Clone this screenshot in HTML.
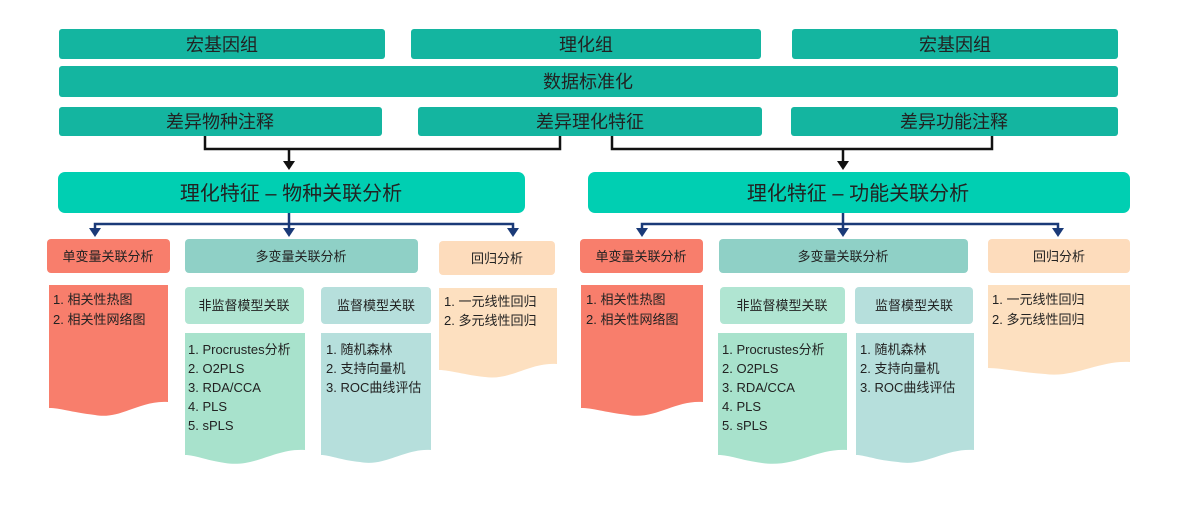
<!DOCTYPE html>
<html><head><meta charset="utf-8"><style>
html,body{margin:0;padding:0;background:#fff;width:1200px;height:523px;overflow:hidden}
text{font-family:"Liberation Sans","Noto Sans CJK SC",sans-serif;fill:#222}
</style></head><body>
<svg width="1200" height="523" xmlns="http://www.w3.org/2000/svg">
<defs>
<marker id="ak" markerWidth="8" markerHeight="8" refX="4" refY="6" orient="auto" markerUnits="userSpaceOnUse"><path d="M0,0 L8,0 L4,8 z" fill="#111" transform="translate(0,-2)"/></marker>
</defs>
<g fill="#14b5a0">
<rect x="59" y="29" width="326" height="30" rx="3"/>
<rect x="411" y="29" width="350" height="30" rx="3"/>
<rect x="792" y="29" width="326" height="30" rx="3"/>
<rect x="59" y="66" width="1059" height="31" rx="3"/>
<rect x="59" y="107" width="323" height="29" rx="3"/>
<rect x="418" y="107" width="344" height="29" rx="3"/>
<rect x="791" y="107" width="327" height="29" rx="3"/>
</g>
<g font-size="18" text-anchor="middle">
<text x="222" y="51">宏基因组</text>
<text x="586" y="51">理化组</text>
<text x="955" y="51">宏基因组</text>
<text x="588" y="88">数据标准化</text>
<text x="220" y="128">差异物种注释</text>
<text x="590" y="128">差异理化特征</text>
<text x="954" y="128">差异功能注释</text>
</g>
<g stroke="#111" stroke-width="2.5" fill="none">
<path d="M205 136 V149 H560 V136"/>
<path d="M612 136 V149 H992 V136"/>
<path d="M289 149 V162"/><path d="M843 149 V162"/>
</g>
<path d="M283 161 L295 161 L289 170 z" fill="#111"/>
<path d="M837 161 L849 161 L843 170 z" fill="#111"/>
<rect x="58" y="172" width="467" height="41" rx="7" fill="#00cfb2"/>
<rect x="588" y="172" width="542" height="41" rx="7" fill="#00cfb2"/>
<g font-size="20" text-anchor="middle">
<text x="291" y="200">理化特征 – 物种关联分析</text>
<text x="858" y="200">理化特征 – 功能关联分析</text>
</g>
<g stroke="#1a3a78" stroke-width="2.5" fill="none">
<path d="M95 229 V224 H513 V229"/><path d="M289 213 V229"/>
<path d="M642 229 V224 H1058 V229"/><path d="M843 213 V229"/>
</g>
<g fill="#1a3a78">
<path d="M89 228 L101 228 L95 237 z"/><path d="M283 228 L295 228 L289 237 z"/><path d="M507 228 L519 228 L513 237 z"/>
<path d="M636 228 L648 228 L642 237 z"/><path d="M837 228 L849 228 L843 237 z"/><path d="M1052 228 L1064 228 L1058 237 z"/>
</g>
<!-- left group -->
<rect x="47" y="239" width="123" height="34" rx="4" fill="#f87e6c"/>
<rect x="185" y="239" width="233" height="34" rx="4" fill="#8fd0c6"/>
<rect x="439" y="241" width="116" height="34" rx="4" fill="#fddcbc"/>
<rect x="185" y="287" width="119" height="37" rx="4" fill="#b0e5d2"/>
<rect x="321" y="287" width="110" height="37" rx="4" fill="#b6dfdc"/>
<path d="M49 285 H168 V402 C140 400 120 420 95 415 C70 412 60 408 49 408 Z" fill="#f87e6c"/>
<path d="M185 333 H305 V450 C275 448 255 468 225 463 C205 460 195 455 185 455 Z" fill="#a8e2cc"/>
<path d="M321 333 H431 V450 C405 448 385 467 360 462 C340 460 330 455 321 455 Z" fill="#b6dfdc"/>
<path d="M439 288 H557 V364 C530 362 510 381 485 377 C465 375 450 370 439 370 Z" fill="#fde0c0"/>
<!-- right group -->
<rect x="580" y="239" width="123" height="34" rx="4" fill="#f87e6c"/>
<rect x="719" y="239" width="249" height="34" rx="4" fill="#8fd0c6"/>
<rect x="988" y="239" width="142" height="34" rx="4" fill="#fddcbc"/>
<rect x="720" y="287" width="125" height="37" rx="4" fill="#b0e5d2"/>
<rect x="855" y="287" width="118" height="37" rx="4" fill="#b6dfdc"/>
<path d="M581 285 H703 V402 C675 400 655 420 628 415 C603 412 593 408 581 408 Z" fill="#f87e6c"/>
<path d="M718 333 H847 V450 C817 448 795 468 762 463 C740 460 730 455 718 455 Z" fill="#a8e2cc"/>
<path d="M856 333 H974 V450 C945 448 925 467 898 462 C875 460 865 455 856 455 Z" fill="#b6dfdc"/>
<path d="M988 285 H1130 V362 C1100 360 1075 378 1045 374 C1020 372 1000 368 988 368 Z" fill="#fde0c0"/>
<g font-size="13" text-anchor="middle">
<text x="108" y="261">单变量关联分析</text>
<text x="301" y="261">多变量关联分析</text>
<text x="497" y="263">回归分析</text>
<text x="244" y="310">非监督模型关联</text>
<text x="376" y="310">监督模型关联</text>
<text x="641" y="261">单变量关联分析</text>
<text x="843" y="261">多变量关联分析</text>
<text x="1059" y="261">回归分析</text>
<text x="782" y="310">非监督模型关联</text>
<text x="914" y="310">监督模型关联</text>
</g>
<g font-size="13">
<text x="53" y="304">1. 相关性热图</text><text x="53" y="324">2. 相关性网络图</text>
<text x="188" y="354">1. Procrustes分析</text><text x="188" y="373">2. O2PLS</text><text x="188" y="392">3. RDA/CCA</text><text x="188" y="411">4. PLS</text><text x="188" y="430">5. sPLS</text>
<text x="326" y="354">1. 随机森林</text><text x="326" y="373">2. 支持向量机</text><text x="326" y="392">3. ROC曲线评估</text>
<text x="444" y="306">1. 一元线性回归</text><text x="444" y="325">2. 多元线性回归</text>
<text x="586" y="304">1. 相关性热图</text><text x="586" y="324">2. 相关性网络图</text>
<text x="722" y="354">1. Procrustes分析</text><text x="722" y="373">2. O2PLS</text><text x="722" y="392">3. RDA/CCA</text><text x="722" y="411">4. PLS</text><text x="722" y="430">5. sPLS</text>
<text x="860" y="354">1. 随机森林</text><text x="860" y="373">2. 支持向量机</text><text x="860" y="392">3. ROC曲线评估</text>
<text x="992" y="304">1. 一元线性回归</text><text x="992" y="324">2. 多元线性回归</text>
</g>
</svg>
</body></html>
